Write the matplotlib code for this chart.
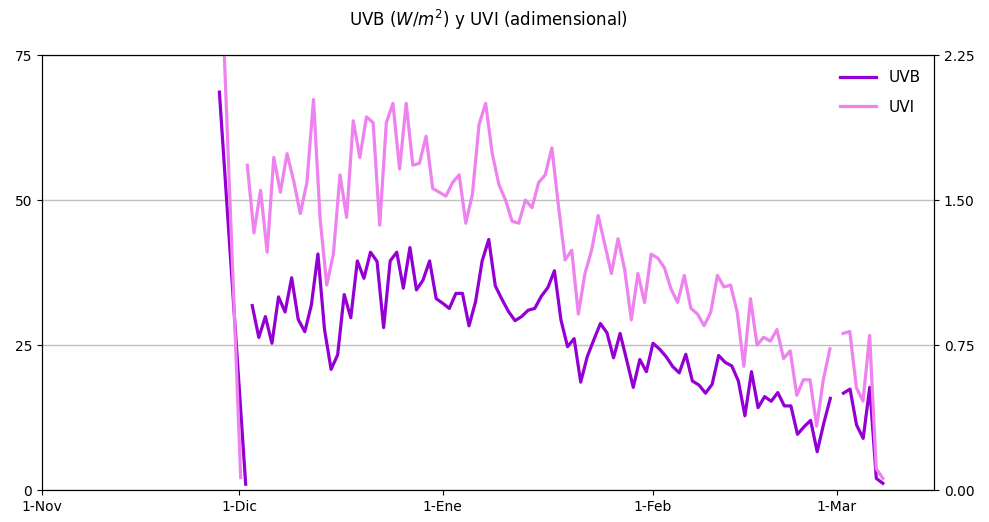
#------------------------------------------------------------------ Import ------------------------------------------------------------------#

import matplotlib
matplotlib.use("Agg")
import matplotlib.pyplot as plt
import numpy as np

#------------------------------------------------------------------ Datos -------------------------------------------------------------------#
# dias contados desde el 1-Nov

# primer tramo (finales de noviembre)
dias_nov = [27, 31]
uvb_nov = [68.6, 1.0]
uvi_nov = [3.6, 0.064]

# serie principal, desde el dia 32 hasta el 128 (nan = sin dato)
dia_inicio = 32
uvb = [31.8, 26.3, 29.9, 25.3, 33.3, 30.7, 36.6, 29.4, 27.3, 31.9,
       40.7, 27.7, 20.8, 23.3, 33.7, 29.7, 39.5, 36.5, 41.0, 39.4,
       28.0, 39.5, 41.0, 34.8, 41.8, 34.5, 36.2, 39.5, 33.0, 32.2,
       31.3, 33.9, 33.9, 28.3, 32.5, 39.5, 43.2, 35.2, 32.9, 30.8,
       29.2, 29.9, 31.0, 31.3, 33.4, 34.9, 37.8, 29.3, 24.7, 26.1,
       18.6, 23.0, 25.9, 28.7, 27.1, 22.8, 27.0, 22.4, 17.7, 22.5,
       20.4, 25.3, 24.3, 23.0, 21.3, 20.2, 23.4, 18.8, 18.1, 16.7,
       18.2, 23.2, 22.0, 21.4, 18.8, 12.8, 20.4, 14.2, 16.1, 15.3,
       16.8, 14.5, 14.5, 9.6, 10.9, 12.0, 6.6, 11.5, 15.8, np.nan,
       16.7, 17.4, 11.2, 8.9, 17.7, 2.0, 1.15]

uvi = [1.68, 1.33, 1.55, 1.23, 1.72, 1.54, 1.74, 1.60, 1.43, 1.59,
       2.02, 1.40, 1.06, 1.22, 1.63, 1.41, 1.91, 1.72, 1.93, 1.90,
       1.37, 1.90, 2.00, 1.66, 2.00, 1.68, 1.69, 1.83, 1.56, 1.54,
       1.52, 1.59, 1.63, 1.38, 1.53, 1.89, 2.00, 1.74, 1.58, 1.50,
       1.39, 1.38, 1.50, 1.46, 1.59, 1.63, 1.77, 1.47, 1.19, 1.24,
       0.91, 1.12, 1.24, 1.42, 1.27, 1.12, 1.30, 1.14, 0.88, 1.12,
       0.97, 1.22, 1.20, 1.15, 1.04, 0.97, 1.11, 0.94, 0.91, 0.85,
       0.92, 1.11, 1.05, 1.06, 0.92, 0.64, 0.99, 0.75, 0.79, 0.77,
       0.83, 0.68, 0.72, 0.49, 0.57, 0.57, 0.33, 0.57, 0.73, np.nan,
       0.81, 0.82, 0.53, 0.46, 0.80, 0.11, 0.06]

pos_meses = [0, 30, 61, 93, 121]
nom_meses = ["1-Nov", "1-Dic", "1-Ene", "1-Feb", "1-Mar"]

#------------------------------------------------------------------ Grafico -----------------------------------------------------------------#

dias = np.arange(dia_inicio, dia_inicio + len(uvb))
dias_nov = np.array(dias_nov)

# el UVI esta medido un poco antes cada dia (desfase que se reduce con el tiempo)
def hora_uvi(d):
    return d - 0.75 * (dias[-1] - d) / 96

col_uvb = "darkviolet"
col_uvi = "violet"

fig, ax1 = plt.subplots(figsize=(9.89, 5.22), dpi=100)
fig.subplots_adjust(left=0.0425, right=0.9445, top=0.8946, bottom=0.0613)
ax2 = ax1.twinx()

ax1.plot(dias_nov, uvb_nov, color=col_uvb, lw=2.3)
l1, = ax1.plot(dias, uvb, color=col_uvb, lw=2.3, label="UVB")
ax2.plot(hora_uvi(dias_nov), uvi_nov, color=col_uvi, lw=2.3)
l2, = ax2.plot(hora_uvi(dias), uvi, color=col_uvi, lw=2.3, label="UVI")

ax1.set_xlim(0, 135.8)
ax1.set_ylim(0, 75)
ax2.set_ylim(0, 2.25)
ax1.set_yticks([0, 25, 50, 75])
ax2.set_yticks([0, 0.75, 1.5, 2.25])
ax2.set_yticklabels(["0.00", "0.75", "1.50", "2.25"])
ax1.set_xticks(pos_meses)
ax1.set_xticklabels(nom_meses)
ax1.tick_params(labelsize=10)
ax2.tick_params(labelsize=10)

ax1.yaxis.grid(True, color="#bfbfbf", lw=1)
ax1.set_axisbelow(True)

ax2.legend([l1, l2], ["UVB", "UVI"], loc="upper right", frameon=False,
           bbox_to_anchor=(1.0, 0.997),
           fontsize=11, labelspacing=0.95, handlelength=2.35, handletextpad=0.8)

fig.suptitle("UVB ($W/m^2$) y UVI (adimensional)", fontsize=12, x=0.4935, y=0.985)

plt.savefig("out.png", dpi=100)
